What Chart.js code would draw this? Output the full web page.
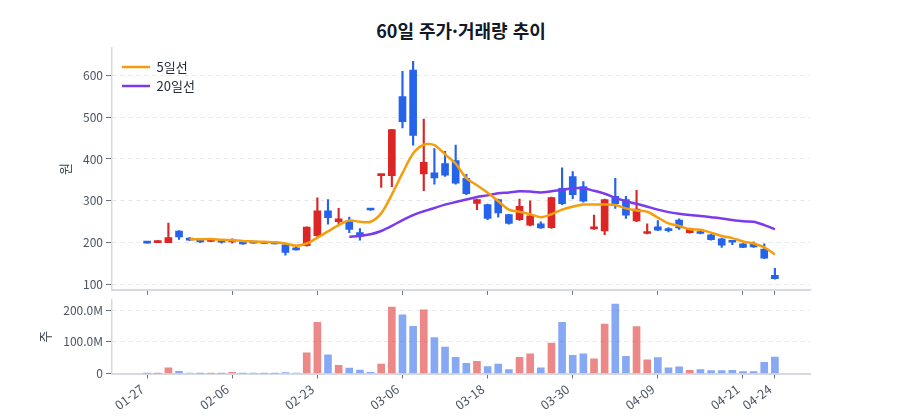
<!DOCTYPE html>
<html lang="ko">
<head>
<meta charset="utf-8">
<title>60일 주가·거래량 추이</title>
<script src="https://cdn.jsdelivr.net/npm/chart.js@4.4.1/dist/chart.umd.min.js"></script>
<style>
  html, body { margin: 0; padding: 0; background: #ffffff; }
  #wrap { position: relative; width: 900px; height: 420px; overflow: hidden; }
  #title {
    position: absolute; left: 112px; width: 698px; top: 17px;
    text-align: center; color: #111827;
    font: bold 18px 'Noto Sans CJK KR', 'Noto Sans', sans-serif;
  }
  .box { position: absolute; left: 0; }
</style>
</head>
<body>
<div id="wrap">
  <div id="title">60일 주가·거래량 추이</div>
  <div class="box" style="top:0;"><canvas id="priceChart" width="900" height="300"></canvas></div>
  <div class="box" style="top:290px;"><canvas id="volumeChart" width="900" height="130"></canvas></div>
</div>
<script>
// trading days (MM-DD)
const dates = [
  '01-27', '01-28', '01-29', '01-30', '02-02', '02-03', '02-04', '02-05',
  '02-06', '02-09', '02-10', '02-11', '02-12', '02-13', '02-19', '02-20',
  '02-23', '02-24', '02-25', '02-26', '02-27', '03-03', '03-04', '03-05',
  '03-06', '03-09', '03-10', '03-11', '03-12', '03-13', '03-16', '03-17',
  '03-18', '03-19', '03-20', '03-23', '03-24', '03-25', '03-26', '03-27',
  '03-30', '03-31', '04-01', '04-02', '04-03', '04-06', '04-07', '04-08',
  '04-09', '04-10', '04-13', '04-14', '04-15', '04-16', '04-17', '04-20',
  '04-21', '04-22', '04-23', '04-24'
];
const opens = [
  201, 200, 200, 228, 211, 207, 203, 206, 202, 200,
  200, 199, 198, 195, 185, 193, 217, 276, 250, 252,
  224, 281, 360, 360, 549, 612, 364, 367, 389, 396,
  354, 294, 291, 303, 267, 255, 242, 245, 236, 330,
  358, 334, 233, 228, 311, 303, 252, 222, 238, 232,
  254, 224, 226, 219, 209, 205, 197, 196, 185, 122
];
const highs = [
  202, 205, 247, 229, 212, 208, 208, 206, 209, 200,
  200, 199, 198, 197, 191, 238, 307, 303, 282, 261,
  234, 281, 363, 471, 609, 633, 495, 425, 418, 433,
  363, 304, 292, 304, 268, 304, 300, 250, 309, 379,
  370, 346, 266, 304, 354, 311, 325, 245, 253, 236,
  257, 235, 227, 220, 211, 205, 198, 202, 197, 139
];
const lows = [
  199, 200, 200, 208, 205, 200, 203, 199, 199, 196,
  199, 198, 197, 170, 182, 192, 215, 244, 244, 224,
  206, 277, 332, 334, 474, 433, 324, 340, 358, 340,
  315, 279, 255, 261, 244, 253, 240, 234, 234, 291,
  305, 297, 232, 219, 282, 258, 250, 221, 229, 226,
  232, 223, 221, 206, 189, 195, 188, 189, 162, 113
];
const closes = [
  199, 204, 212, 214, 206, 202, 207, 201, 205, 197,
  199, 198, 197, 177, 183, 237, 276, 260, 257, 232,
  216, 278, 363, 470, 489, 456, 392, 355, 361, 342,
  317, 303, 258, 271, 246, 287, 264, 235, 308, 293,
  315, 299, 235, 303, 293, 266, 280, 224, 230, 229,
  235, 234, 222, 207, 194, 201, 189, 190, 163, 114
];
// volume in millions of shares
const volumes = [
  0.2, 0.3, 18, 7, 1.5, 0.2, 0.2, 0.2, 4, 0.2,
  1.2, 0.2, 0.2, 3, 1.5, 65, 161, 59, 26, 17,
  11, 4, 30, 209, 185, 149, 201, 113, 83, 51,
  32, 38, 22, 30, 12, 51, 62, 18, 96, 161,
  57, 62, 46, 156, 219, 54, 148, 43, 50, 18,
  21, 10, 12, 9, 9, 10, 6, 6, 35, 52
];
const ma5 = [
  null, null, null, null, 208, 208, 209, 207, 206, 204,
  203, 202, 201, 198, 193, 198, 212, 227, 242, 253,
  250, 250, 270, 315, 366, 413, 434, 433, 411, 389,
  354, 337, 319, 299, 279, 274, 268, 261, 268, 279,
  286, 291, 291, 291, 290, 282, 277, 274, 260, 246,
  240, 232, 231, 224, 216, 211, 203, 198, 189, 172
];
const ma20 = [
  null, null, null, null, null, null, null, null, null, null,
  null, null, null, null, null, null, null, null, null, 214,
  216, 220, 228, 240, 254, 266, 275, 283, 291, 297,
  303, 309, 313, 318, 320, 323, 322, 320, 323, 326,
  330, 330, 324, 317, 307, 299, 293, 286, 279, 273,
  269, 266, 264, 261, 258, 254, 251, 250, 242, 232
];
const tickIndex = [0, 8, 16, 24, 32, 40, 48, 56, 59];
const priceTicks = [100, 200, 300, 400, 500, 600];
const volumeTicks = [0, 100, 200];

const fontFamily = "'Noto Sans CJK KR', 'Noto Sans', sans-serif";
const tickColor = '#4b5563';
const gridColor = '#e5e7eb';
const borderColor = '#d6dae0';
const markColor = '#6b7280';

const upColor = '#dc2626';
const downColor = '#2563eb';
const isUp = closes.map((c, i) => c >= opens[i]);
const candleColors = isUp.map(u => u ? upColor : downColor);
const volumeColors = isUp.map(u => u ? 'rgba(220, 38, 38, 0.55)' : 'rgba(37, 99, 235, 0.55)');

const toPoints = arr => arr.map((v, i) => ({ x: i, y: v })).filter(p => p.y !== null);

// keep the legend inside the plot, top-left corner
const legendInPlot = {
    id: 'legendInPlot',
    afterLayout(chart) {
        const lg = chart.legend;
        if (!lg) return;
        const h = lg.bottom - lg.top;
        lg.left = chart.chartArea.left + 4;
        lg.top = chart.chartArea.top + 6.5;
        lg.bottom = lg.top + h;
    }
};

// shared x axis (index based, same range on both panels)
function makeXAxis(showLabels, height) {
    return {
        type: 'linear',
        min: -3.3,
        max: 62.3,
        offset: false,
        afterBuildTicks: scale => { scale.ticks = tickIndex.map(v => ({ value: v })); },
        afterFit: scale => { scale.height = height; },
        ticks: {
            display: showLabels,
            autoSkip: false,
            minRotation: 37,
            maxRotation: 37,
            padding: 3,
            labelOffset: -5,
            color: tickColor,
            font: { family: fontFamily, size: 12.5 },
            callback: v => dates[v]
        },
        grid: {
            offset: false,
            drawOnChartArea: false,
            drawTicks: true,
            tickLength: 5,
            tickColor: markColor
        },
        border: { color: borderColor, width: 2 }
    };
}

function makeYAxis(min, max, ticks, titleText, titlePad, fmt) {
    return {
        min: min,
        max: max,
        afterBuildTicks: scale => { scale.ticks = ticks.map(v => ({ value: v })); },
        afterFit: scale => { scale.width = 112; },
        ticks: {
            padding: 3,
            color: tickColor,
            font: { family: fontFamily, size: 12 },
            callback: fmt
        },
        grid: {
            color: gridColor,
            lineWidth: 1,
            tickLength: 6,
            tickColor: markColor
        },
        border: { color: borderColor, width: 1.5, dash: [4, 4] },
        title: {
            display: true,
            text: titleText,
            color: '#374151',
            font: { family: fontFamily, size: 13 },
            padding: { top: titlePad, bottom: 0 }
        }
    };
}

// --- PRICE PANEL ---
new Chart(document.getElementById('priceChart'), {
    type: 'bar',
    data: {
        datasets: [
            {
                type: 'line',
                label: '5일선',
                data: toPoints(ma5),
                borderColor: '#f59e0b',
                backgroundColor: '#f59e0b',
                borderWidth: 2.5,
                pointRadius: 0,
                tension: 0.3
            },
            {
                type: 'line',
                label: '20일선',
                data: toPoints(ma20),
                borderColor: '#7c3aed',
                backgroundColor: '#7c3aed',
                borderWidth: 2.5,
                pointRadius: 0,
                tension: 0.3
            },
            {
                label: '시가·종가',
                data: opens.map((o, i) => ({ x: i, y: [o, closes[i]] })),
                backgroundColor: candleColors,
                barThickness: 7,
                minBarLength: 2,
                grouped: false
            },
            {
                label: '고가·저가',
                data: lows.map((l, i) => ({ x: i, y: [l, highs[i]] })),
                backgroundColor: candleColors,
                barThickness: 1.5,
                grouped: false
            }
        ]
    },
    options: {
        responsive: false,
        animation: false,
        events: [],
        layout: { padding: { left: 0, right: 90, top: 48, bottom: 0 } },
        plugins: {
            tooltip: { enabled: false },
            legend: {
                position: 'chartArea',
                align: 'start',
                labels: {
                    usePointStyle: true,
                    pointStyle: 'line',
                    pointStyleWidth: 28,
                    padding: 6,
                    color: '#1f2937',
                    font: { family: fontFamily, size: 13 },
                    filter: item => item.datasetIndex < 2
                }
            }
        },
        scales: {
            x: makeXAxis(false, 7),
            y: makeYAxis(87.5, 665, priceTicks, '원', 57, v => String(v))
        }
    },
    plugins: [legendInPlot]
});

// --- VOLUME PANEL ---
new Chart(document.getElementById('volumeChart'), {
    type: 'bar',
    data: {
        datasets: [{
            label: '거래량',
            data: volumes.map((v, i) => ({ x: i, y: v })),
            backgroundColor: volumeColors,
            barThickness: 7
        }]
    },
    options: {
        responsive: false,
        animation: false,
        events: [],
        layout: { padding: { left: 0, right: 90, top: 6.7, bottom: 0 } },
        plugins: {
            tooltip: { enabled: false },
            legend: { display: false }
        },
        scales: {
            x: makeXAxis(true, 46.5),
            y: makeYAxis(0, 231, volumeTicks, '주', 37, v => v === 0 ? '0' : v.toFixed(1) + 'M')
        }
    }
});
</script>
</body>
</html>
